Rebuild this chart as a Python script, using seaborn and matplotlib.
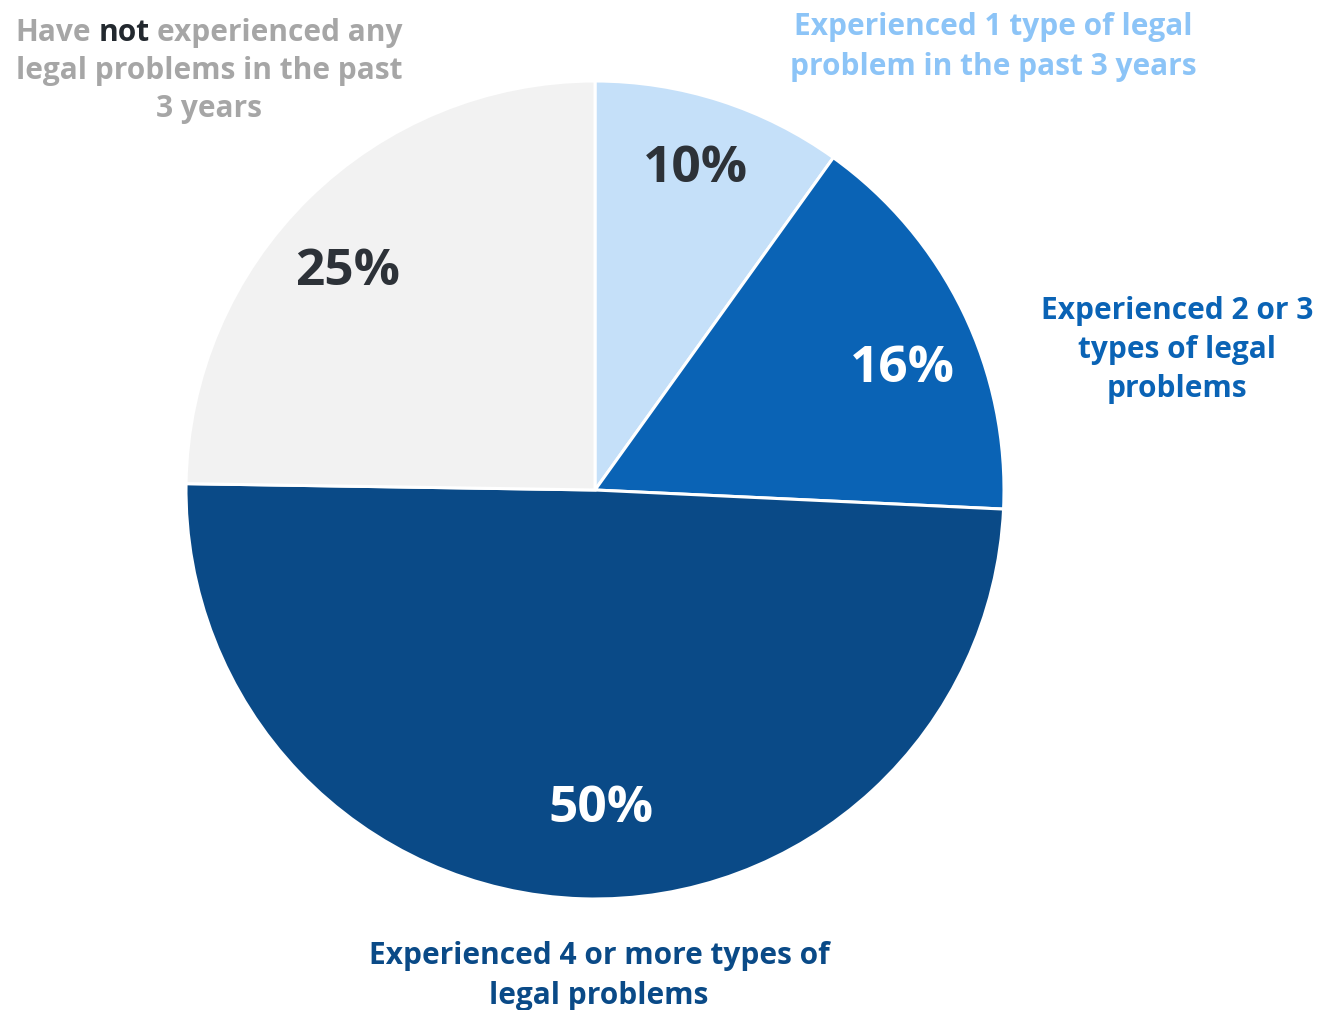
import matplotlib
matplotlib.use("Agg")
import matplotlib.pyplot as plt
import seaborn as sns

# chart data (clockwise from 12 o'clock)
categories = [
    "Experienced 1 type of legal\nproblem in the past 3 years",
    "Experienced 2 or 3\ntypes of legal\nproblems",
    "Experienced 4 or more types of\nlegal problems",
    "Have not experienced any\nlegal problems in the past\n3 years",
]
values = [10, 16, 50, 25]
pct_labels = ["10%", "16%", "50%", "25%"]

slice_colors = ["#C5E0F9", "#0A63B5", "#0A4A87", "#F2F2F2"]
label_colors = ["#8CC4F7", "#0A63B5", "#0A4A87", "#A6A6A6"]
pct_colors = ["#2D3238", "white", "white", "#2D3238"]

sns.set_theme(style="white")
plt.rcParams["font.family"] = ["Open Sans", "DejaVu Sans"]

W, H = 1320, 1010
fig = plt.figure(figsize=(W / 100, H / 100), dpi=100)
cx, cy, r = 595, 490, 409
ax = fig.add_axes([(cx - r) / W, (H - cy - r) / H, 2 * r / W, 2 * r / H])

pct_iter = iter(pct_labels)
wedges, texts, autotexts = ax.pie(
    values,
    colors=slice_colors,
    startangle=90,
    counterclock=False,
    autopct=lambda p: next(pct_iter),
    pctdistance=0.8,
    wedgeprops=dict(edgecolor="white", linewidth=2.2),
)
# percentage label centres, in pixels (layout only)
pct_pos = [(695, 169), (902, 369), (601, 809), (348, 272)]
for t, c, (x, y) in zip(autotexts, pct_colors, pct_pos):
    t.set_color(c)
    t.set_fontsize(37)
    t.set_fontweight("bold")
    t.set_position(((x - cx) / r, (cy - y) / r))
ax.set_aspect("equal")
ax.set_xlim(-1, 1)
ax.set_ylim(-1, 1)
ax.axis("off")

lab_fs = 21.5


def px(x, y):
    return x / W, 1 - y / H


# category labels placed around the pie (pixel centres)
lab_pos = {0: (993, 47), 1: (1177, 350), 2: (599, 976)}
for i, (x, y) in lab_pos.items():
    fig.text(*px(x, y), categories[i], ha="center", va="center",
             color=label_colors[i], fontsize=lab_fs, fontweight="bold",
             linespacing=1.4)

# "Have not..." label, with "not" highlighted
lines = categories[3].split("\n")
line_y = [33, 71, 109]
fig.canvas.draw()
rend = fig.canvas.get_renderer()


def width(s):
    tmp = fig.text(0, 0, s, fontsize=lab_fs, fontweight="bold")
    w = tmp.get_window_extent(rend).width
    tmp.remove()
    return w


for ln, y in zip(lines, line_y):
    yy = 1 - y / H
    if " not " in ln:
        x0 = 209 - width(ln) / 2
        pre, post = ln.split(" not ")
        fig.text(x0 / W, yy, pre, ha="left", va="center",
                 color=label_colors[3], fontsize=lab_fs, fontweight="bold")
        fig.text((x0 + width(pre + " not")) / W, yy, "not", ha="right",
                 va="center", color="#22282E", fontsize=lab_fs,
                 fontweight="bold")
        fig.text((x0 + width(ln)) / W, yy, post, ha="right", va="center",
                 color=label_colors[3], fontsize=lab_fs, fontweight="bold")
    else:
        fig.text(209 / W, yy, ln, ha="center", va="center",
                 color=label_colors[3], fontsize=lab_fs, fontweight="bold")

fig.savefig("out.png", dpi=100, facecolor="white")
